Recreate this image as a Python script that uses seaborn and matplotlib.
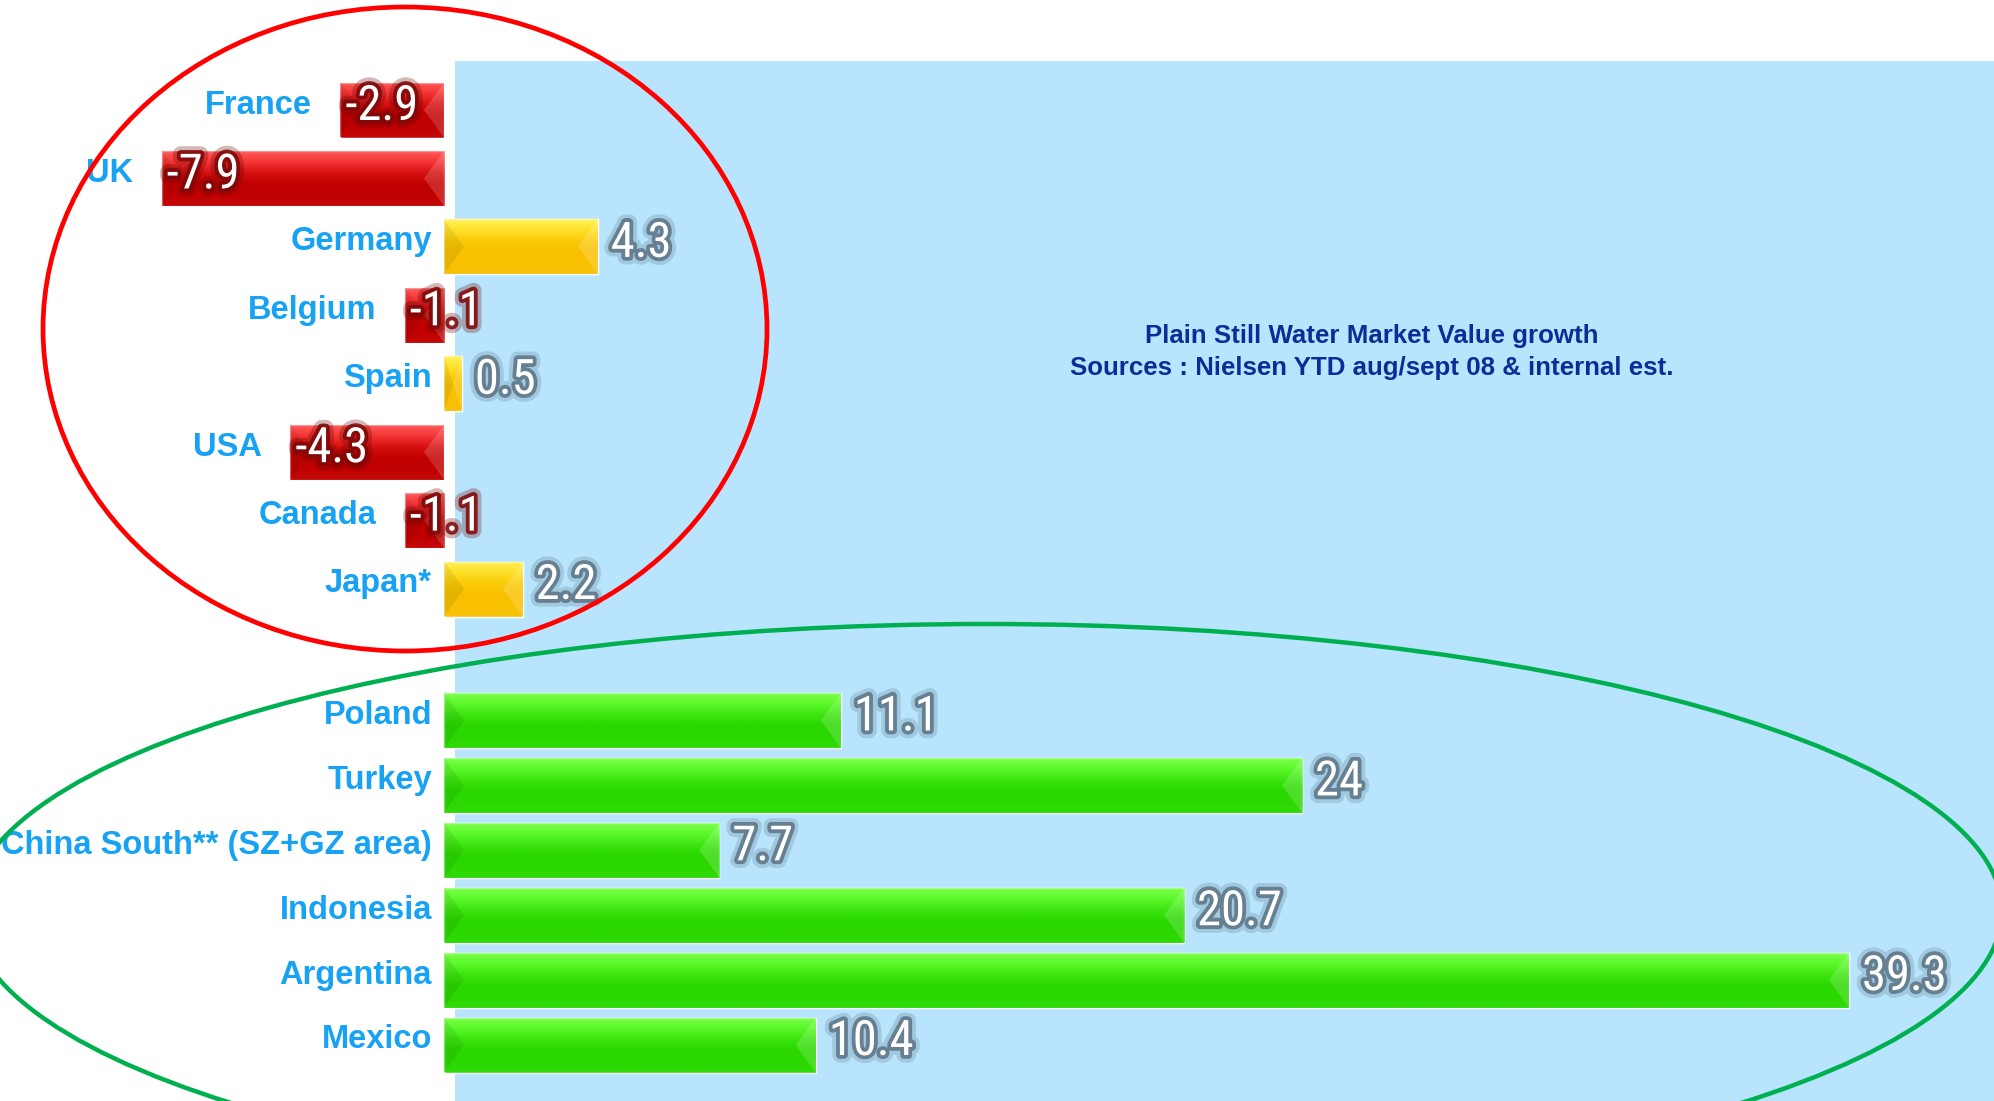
import numpy as np
import pandas as pd
import matplotlib
matplotlib.use("Agg")
import matplotlib.pyplot as plt
import matplotlib.patheffects as pe
from matplotlib import font_manager
from matplotlib.colors import LinearSegmentedColormap
from matplotlib.patches import Ellipse, Rectangle, Polygon
import seaborn as sns

# ---- data -------------------------------------------------------------
mature_markets = ["France", "UK", "Germany", "Belgium", "Spain", "USA", "Canada", "Japan*"]
mature_growth = [-2.9, -7.9, 4.3, -1.1, 0.5, -4.3, -1.1, 2.2]

emerging_markets = ["Poland", "Turkey", "China South** (SZ+GZ area)", "Indonesia",
                    "Argentina", "Mexico"]
emerging_growth = [11.1, 24, 7.7, 20.7, 39.3, 10.4]

title_lines = ["Plain Still Water Market Value growth",
               "Sources : Nielsen YTD aug/sept 08 & internal est."]

# ---- styling ----------------------------------------------------------
sns.set_theme(style="white")
plt.rcParams["font.family"] = ["Liberation Sans", "DejaVu Sans"]

LABEL_BLUE = "#18A2F4"
TITLE_NAVY = "#0A2D98"
PANEL_BLUE = "#B8E5FD"

tone_palette = {"decline": "#C00000", "growth": "#F8C000", "emerging": "#2AD800"}
tone_stops = {
    "decline": ["#FF5A5A", "#F43434", "#D41010", "#C20000", "#C00000", "#C40808"],
    "growth": ["#FFF35A", "#FFE02A", "#FACB08", "#F8C000", "#F8C000", "#F6C208"],
    "emerging": ["#7CFF4A", "#5CF82A", "#3CE410", "#2AD800", "#2AD800", "#30DA08"],
}

# narrow face for the value figures
names = {f.name for f in font_manager.fontManager.ttflist}
value_font = None
for cand in ["Liberation Sans Narrow", "Roboto Condensed", "Arial Narrow"]:
    if cand in names:
        value_font = font_manager.FontProperties(family=cand, size=35)
        break
if value_font is None:
    cond = [f.fname for f in font_manager.fontManager.ttflist
            if "DejaVuSansCondensed.ttf" in f.fname]
    if cond:
        value_font = font_manager.FontProperties(fname=cond[0], size=33)
    else:
        value_font = font_manager.FontProperties(family="DejaVu Sans", size=30)

# ---- figure layout (pixel based) --------------------------------------
W, H, DPI = 1994, 1101, 100
fig = plt.figure(figsize=(W / DPI, H / DPI), dpi=DPI)

ZERO_PX = 444.0        # x pixel of the zero line
PX_PER_UNIT = 35.75    # horizontal scale
xlim = (-ZERO_PX / PX_PER_UNIT, (W - ZERO_PX) / PX_PER_UNIT)


def add_rows_axes(first_center, last_center, n):
    step = (last_center - first_center) / (n - 1)
    top = first_center - step / 2
    bottom = last_center + step / 2
    return fig.add_axes([0, 1 - bottom / H, 1, (bottom - top) / H]), step


ax_top, step_top = add_rows_axes(110, 589, len(mature_markets))
ax_bot, step_bot = add_rows_axes(720.5, 1045, len(emerging_markets))

# light-blue backdrop panel
fig.patches.append(Rectangle((455 / W, 0), 1 - 455 / W, 1 - 61 / H,
                             transform=fig.transFigure, facecolor=PANEL_BLUE,
                             edgecolor="none", zorder=-5))

top_df = pd.DataFrame({"market": mature_markets, "growth": mature_growth})
top_df["tone"] = np.where(top_df["growth"] < 0, "decline", "growth")
bot_df = pd.DataFrame({"market": emerging_markets, "growth": emerging_growth})
bot_df["tone"] = "emerging"

value_effects_blue = [pe.Stroke(linewidth=11, foreground=(0.30, 0.40, 0.47, 0.22)),
                      pe.Stroke(linewidth=5.5, foreground=(0.38, 0.48, 0.55, 0.92)),
                      pe.Normal()]
value_effects_red = [pe.Stroke(linewidth=11, foreground=(0.40, 0.0, 0.0, 0.28)),
                     pe.Stroke(linewidth=5.5, foreground=(0.50, 0.03, 0.03, 0.88)),
                     pe.Normal()]


def draw_group(ax, df, width, step_px):
    sns.barplot(data=df, x="growth", y="market", hue="tone", palette=tone_palette,
                orient="h", width=width, saturation=1, dodge=False, legend=False,
                order=list(df["market"]), ax=ax, zorder=2)
    ax.set_xlim(*xlim)
    ylim = ax.get_ylim()

    # glossy vertical gradient plus bevelled ends on every bar
    grad = np.linspace(0, 1, 256).reshape(-1, 1)
    bevel = 20 / PX_PER_UNIT
    for patch in list(ax.patches):
        w = patch.get_width()
        if not np.isfinite(w) or w == 0:
            continue
        x0 = min(patch.get_x(), patch.get_x() + w)
        x1 = max(patch.get_x(), patch.get_x() + w)
        y0 = patch.get_y()
        y1 = y0 + patch.get_height()
        ym = (y0 + y1) / 2
        tone = "decline" if w < 0 else ("emerging" if ax is ax_bot else "growth")
        cmap = LinearSegmentedColormap.from_list(tone, tone_stops[tone])
        im = ax.imshow(grad, cmap=cmap, extent=(x0, x1, y1, y0), origin="upper",
                       aspect="auto", interpolation="bilinear", zorder=2.1)
        im.set_clip_path(patch)
        b = min(bevel, (x1 - x0) / 2)
        ax.add_patch(Polygon([(x0, y0), (x0, y1), (x0 + b, ym)], closed=True,
                             facecolor=(0, 0, 0, 0.07), edgecolor="none", zorder=2.2))
        ax.add_patch(Polygon([(x1, y0), (x1, y1), (x1 - b, ym)], closed=True,
                             facecolor=(1, 1, 1, 0.16), edgecolor="none", zorder=2.2))
        ax.add_patch(Rectangle((x0, y0), x1 - x0, y1 - y0, facecolor="none",
                               edgecolor=(1, 1, 1, 0.35), linewidth=1.0, zorder=2.3))

    # category names and value labels
    up = 5 / step_px           # lift text slightly above the row centre
    for i, (name, val) in enumerate(zip(df["market"], df["growth"])):
        if val < 0:
            lx = val - 28 / PX_PER_UNIT
        else:
            lx = -12 / PX_PER_UNIT
        ax.text(lx, i - up, name, ha="right", va="center", color=LABEL_BLUE,
                fontsize=23.5, fontweight="bold", zorder=5)
        txt = f"{val:g}"
        if val < 0:
            ax.text(val + 5 / PX_PER_UNIT, i - 3 / step_px, txt, ha="left", va="center",
                    color="white", fontproperties=value_font, zorder=6,
                    path_effects=value_effects_red)
        else:
            ax.text(val + 13 / PX_PER_UNIT, i - 3 / step_px, txt, ha="left", va="center",
                    color="white", fontproperties=value_font, zorder=6,
                    path_effects=value_effects_blue)

    ax.set_xlim(*xlim)
    ax.set_ylim(*ylim)
    ax.set_axis_off()
    ax.patch.set_alpha(0)


draw_group(ax_top, top_df, 55 / step_top, step_top)
draw_group(ax_bot, bot_df, 55 / step_bot, step_bot)

# chart title
fig.text(1372 / W, 1 - 336 / H, title_lines[0], ha="center", va="center",
         color=TITLE_NAVY, fontsize=18.6, fontweight="bold")
fig.text(1372 / W, 1 - 367.5 / H, title_lines[1], ha="center", va="center",
         color=TITLE_NAVY, fontsize=18.6, fontweight="bold")

# highlighting ellipses around the two market groups
fig.patches.append(Ellipse((405 / W, 1 - 329 / H), 724 / W, 644 / H,
                           transform=fig.transFigure, facecolor="none",
                           edgecolor="#FF0000", linewidth=3.4, zorder=10))
fig.patches.append(Ellipse((986 / W, 1 - 911 / H), 2032 / W, 574 / H,
                           transform=fig.transFigure, facecolor="none",
                           edgecolor="#00B050", linewidth=3.2, zorder=10))

fig.savefig("out.png", dpi=DPI, facecolor="white")
